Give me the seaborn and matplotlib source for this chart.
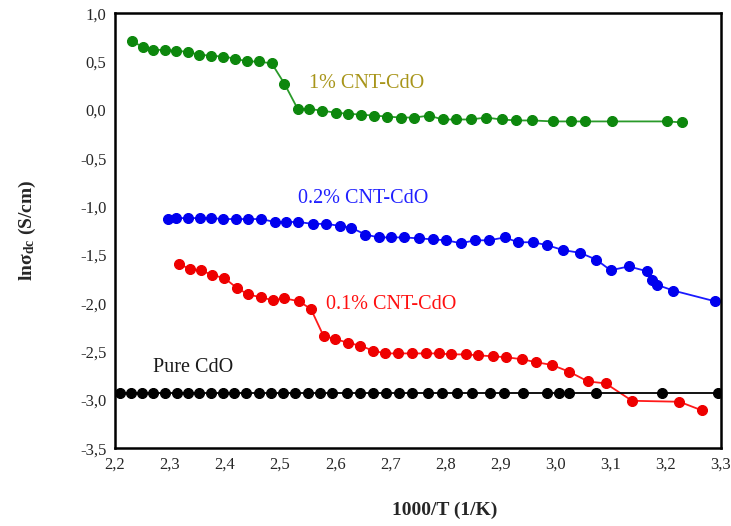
import numpy as np
import pandas as pd
import matplotlib
matplotlib.use("Agg")
import matplotlib.pyplot as plt
from matplotlib.ticker import MultipleLocator, FuncFormatter
import seaborn as sns

# data (1000/T, ln sigma_dc)
x_1pct = [2.231, 2.251, 2.269, 2.291, 2.312, 2.333, 2.353, 2.375, 2.397, 2.419, 2.440, 2.461, 2.485,
          2.508, 2.532, 2.553, 2.577, 2.602, 2.623, 2.647, 2.671, 2.695, 2.719, 2.743, 2.771, 2.795,
          2.820, 2.846, 2.874, 2.902, 2.929, 2.958, 2.995, 3.029, 3.053, 3.103, 3.202, 3.229]
y_1pct = [0.71, 0.65, 0.62, 0.62, 0.61, 0.60, 0.57, 0.56, 0.55, 0.53, 0.50, 0.50, 0.48,
          0.27, 0.01, 0.01, -0.01, -0.03, -0.04, -0.05, -0.06, -0.07, -0.08, -0.08, -0.06, -0.10,
          -0.10, -0.10, -0.08, -0.10, -0.11, -0.11, -0.12, -0.12, -0.12, -0.12, -0.12, -0.13]

x_02pct = [2.297, 2.312, 2.333, 2.354, 2.375, 2.397, 2.420, 2.442, 2.466, 2.490, 2.511, 2.533,
           2.559, 2.584, 2.608, 2.629, 2.655, 2.679, 2.701, 2.725, 2.753, 2.777, 2.802, 2.828,
           2.854, 2.879, 2.908, 2.932, 2.959, 2.985, 3.013, 3.045, 3.074, 3.100, 3.133, 3.166,
           3.175, 3.184, 3.214, 3.289]
y_02pct = [-1.13, -1.12, -1.12, -1.12, -1.12, -1.13, -1.13, -1.13, -1.13, -1.16, -1.16, -1.16,
           -1.18, -1.18, -1.20, -1.22, -1.29, -1.32, -1.32, -1.32, -1.33, -1.34, -1.35, -1.38,
           -1.35, -1.35, -1.32, -1.37, -1.37, -1.40, -1.45, -1.48, -1.55, -1.66, -1.62, -1.67,
           -1.76, -1.81, -1.87, -1.98]

x_01pct = [2.317, 2.336, 2.357, 2.377, 2.399, 2.421, 2.442, 2.466, 2.487, 2.508, 2.534, 2.556,
           2.579, 2.600, 2.623, 2.646, 2.668, 2.691, 2.715, 2.740, 2.765, 2.789, 2.810, 2.837,
           2.860, 2.887, 2.911, 2.939, 2.964, 2.994, 3.025, 3.059, 3.091, 3.139, 3.225, 3.266]
y_01pct = [-1.59, -1.65, -1.66, -1.71, -1.74, -1.84, -1.91, -1.94, -1.97, -1.95, -1.98, -2.06,
           -2.34, -2.37, -2.41, -2.44, -2.49, -2.52, -2.52, -2.52, -2.52, -2.52, -2.53, -2.53,
           -2.54, -2.55, -2.56, -2.58, -2.61, -2.64, -2.71, -2.81, -2.83, -3.01, -3.02, -3.11]

x_pure = [2.210, 2.230, 2.250, 2.269, 2.291, 2.313, 2.333, 2.353, 2.375, 2.397, 2.417, 2.439,
          2.461, 2.484, 2.505, 2.528, 2.550, 2.573, 2.595, 2.621, 2.645, 2.668, 2.692, 2.716,
          2.740, 2.768, 2.794, 2.822, 2.848, 2.881, 2.907, 2.941, 2.984, 3.007, 3.024, 3.074,
          3.193, 3.295]
y_pure = [-2.93] * len(x_pure)

series = [
    (x_1pct, y_1pct, "#0d870d", "#2a9a2a", "1% CNT-CdO", "#a8951a", 2.553, 0.27),
    (x_02pct, y_02pct, "#0000ee", "#1a1aff", "0.2% CNT-CdO", "#2020ff", 2.533, -0.92),
    (x_01pct, y_01pct, "#ee0000", "#ff1a1a", "0.1% CNT-CdO", "#ff1010", 2.583, -2.01),
    (x_pure, y_pure, "#000000", "#000000", "Pure CdO", "#1a1a1a", 2.27, -2.67),
]

sns.set_style("white")
plt.rcParams["font.family"] = ["Liberation Serif", "DejaVu Serif"]
plt.rcParams["mathtext.fontset"] = "custom"
plt.rcParams["mathtext.rm"] = "Liberation Serif"
plt.rcParams["mathtext.bf"] = "Liberation Serif:bold"
plt.rcParams["mathtext.it"] = "Liberation Serif:italic"

fig = plt.figure(figsize=(7.31, 5.26), dpi=100)
ax = fig.add_axes([0.157, 0.148, 0.829, 0.827])

for xs, ys, mcol, lcol, label, tcol, tx, ty in series:
    df = pd.DataFrame({"x": xs, "y": ys})
    sns.lineplot(data=df, x="x", y="y", ax=ax, color=lcol, linewidth=1.3, sort=False,
                 marker="o", markersize=7.2, markerfacecolor=mcol, markeredgecolor=mcol)
    ax.text(tx, ty, label, color=tcol, fontsize=14.5, va="center", ha="left")

ax.set_xlim(2.2, 3.3)
ax.set_ylim(-3.5, 1.0)
ax.xaxis.set_major_locator(MultipleLocator(0.1))
ax.xaxis.set_minor_locator(MultipleLocator(0.05))
ax.yaxis.set_major_locator(MultipleLocator(0.5))
ax.yaxis.set_minor_locator(MultipleLocator(0.25))
comma = FuncFormatter(lambda v, p: f"{v:.1f}".replace(".", ",").replace("-0,0", "0,0"))
ax.xaxis.set_major_formatter(comma)
ax.yaxis.set_major_formatter(comma)
ax.tick_params(axis="both", which="both", direction="in", top=False, right=False,
               labelsize=12, width=1.5, pad=6)
ax.tick_params(which="major", length=6)
ax.tick_params(which="minor", length=3.5)
for sp in ax.spines.values():
    sp.set_linewidth(1.8)
    sp.set_color("black")

ax.set_xlabel("1000/T (1/K)", fontsize=14, fontweight="bold")
ax.set_ylabel(r"ln$\mathbf{\sigma_{dc}}$ (S/cm)", fontsize=14, fontweight="bold")
ax.xaxis.set_label_coords(0.545, -0.122)
ax.yaxis.set_label_coords(-0.127, 0.5)

fig.savefig("out.png", dpi=100)
